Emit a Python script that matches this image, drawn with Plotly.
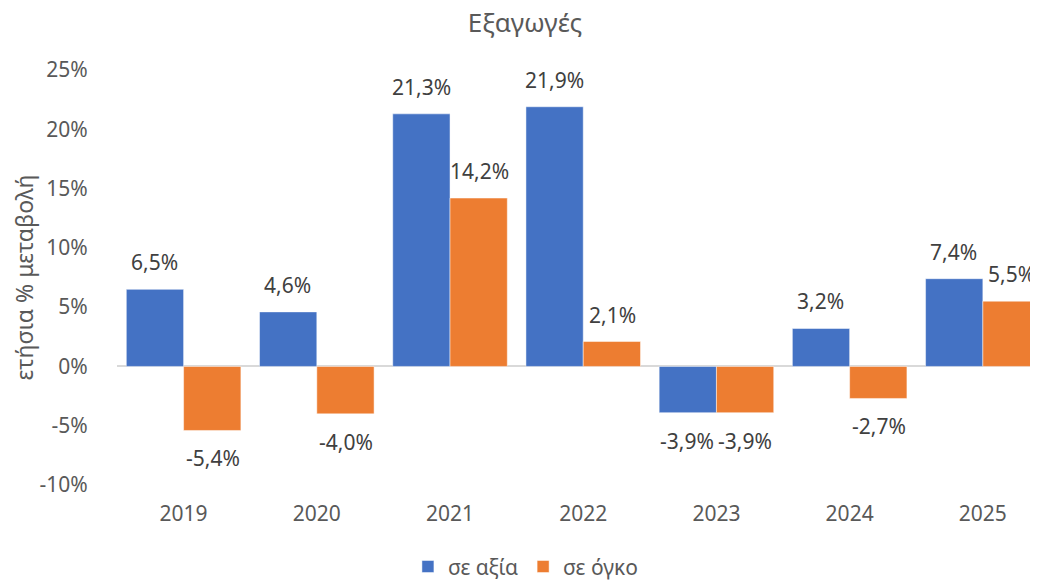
import plotly.graph_objects as go

years = ["2019", "2020", "2021", "2022", "2023", "2024", "2025"]
value_growth = [6.5, 4.6, 21.3, 21.9, -3.9, 3.2, 7.4]
volume_growth = [-5.4, -4.0, 14.2, 2.1, -3.9, -2.7, 5.5]
y_ticks = [-10, -5, 0, 5, 10, 15, 20, 25]
y_tick_labels = ["-10%", "-5%", "0%", "5%", "10%", "15%", "20%", "25%"]

BLUE = "#4472C4"
ORANGE = "#ED7D31"
FONT = "Noto Sans"
GREY = "#595959"

fig = go.Figure()
series = [("σε αξία", value_growth, BLUE, -29), ("σε όγκο", volume_growth, ORANGE, 29)]
for name, vals, color, dx in series:
    fig.add_trace(go.Bar(
        x=years, y=vals, name=name,
        marker=dict(color=color, line=dict(color="rgba(255,255,255,0.6)", width=0.8)),
    ))
    # data labels, pushed a bit further from the bar ends than plotly's default
    for i, v in enumerate(vals):
        fig.add_annotation(
            x=i, y=v, xref="x", yref="y", showarrow=False,
            text=f"{v:.1f}%".replace(".", ","),
            xshift=dx, yshift=27 if v >= 0 else -28, yanchor="middle",
            font=dict(size=21, color="#404040", family=FONT),
        )

# the page body adds an 8px margin, so the figure is sized/offset to compensate
fig.update_layout(
    width=1030, height=572,
    margin=dict(l=109, r=0, t=62, b=95),
    barmode="group", bargap=0.14, bargroupgap=0,
    plot_bgcolor="white", paper_bgcolor="white",
    font=dict(family=FONT, color=GREY, size=21),
    title=dict(text="Εξαγωγές", x=0.502, xref="container", xanchor="center",
               y=0.974, yref="container", yanchor="middle",
               font=dict(size=26, color=GREY, family=FONT)),
    legend=dict(orientation="h", x=0.444, xanchor="center",
                y=0.023, yref="container", yanchor="middle",
                font=dict(size=21, color=GREY), itemwidth=30, traceorder="normal"),
    showlegend=True,
)
fig.update_yaxes(
    range=[-10, 25], tickvals=y_ticks, ticktext=y_tick_labels, showgrid=False,
    zeroline=True, zerolinecolor="#D9D9D9", zerolinewidth=1.5,
    showline=False, tickfont=dict(size=21, color=GREY), automargin=False,
    title=dict(text="ετήσια % μεταβολή", font=dict(size=23, color=GREY), standoff=20),
    ticks="outside", ticklen=24, tickcolor="rgba(0,0,0,0)",
)
fig.update_xaxes(
    type="category", range=[-0.5, 6.414],
    showgrid=False, showline=False, tickfont=dict(size=21, color=GREY), automargin=False,
    ticks="outside", ticklen=10, tickcolor="rgba(0,0,0,0)",
)

fig.write_html("out.html")
